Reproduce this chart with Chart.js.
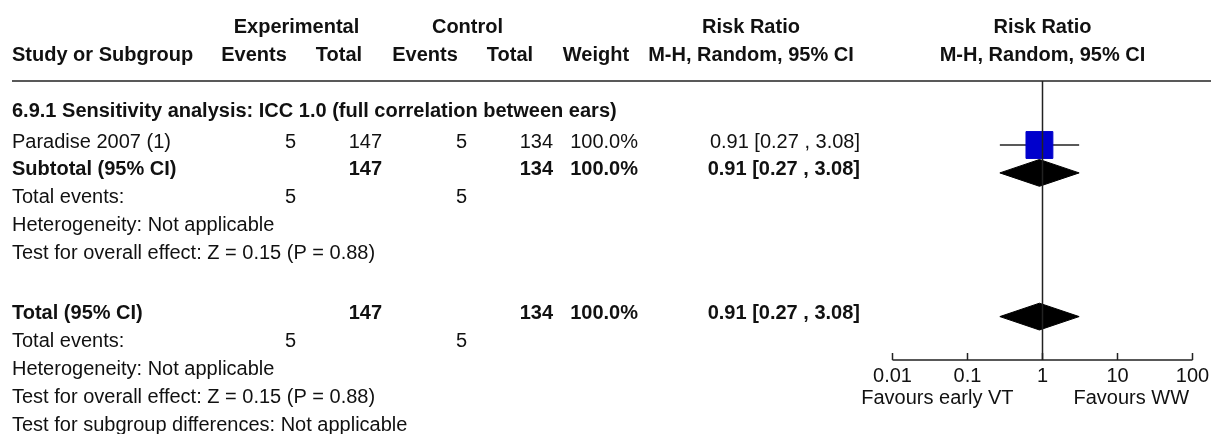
<!DOCTYPE html>
<html>
<head>
<meta charset="utf-8">
<title>Forest plot</title>
<script src="https://cdn.jsdelivr.net/npm/chart.js@4/dist/chart.umd.min.js"></script>
<style>
html, body { margin: 0; padding: 0; background: #fff; }
#wrap { position: relative; width: 1211px; height: 434px; overflow: hidden; }
</style>
</head>
<body>
<div id="wrap"><canvas id="forest" width="1211" height="434"></canvas></div>
<script>
// study level data
var studies = ["Paradise 2007 (1)"];
var expEvents = [5];
var expTotal = [147];
var ctlEvents = [5];
var ctlTotal = [134];
var weights = [100.0];
var rr = [0.91];
var rrLow = [0.27];
var rrHigh = [3.08];

// pooled results: [estimate, low, high]
var subtotalRR = [0.91, 0.27, 3.08];
var totalRR = [0.91, 0.27, 3.08];
var pooledEvents = [5, 5];
var pooledTotal = [147, 134];

var sectionTitle = "6.9.1 Sensitivity analysis: ICC 1.0 (full correlation between ears)";
var overallTest = "Test for overall effect: Z = 0.15 (P = 0.88)";
var heterogeneity = "Heterogeneity: Not applicable";
var subgroupTest = "Test for subgroup differences: Not applicable";

var axisTicks = [0.01, 0.1, 1, 10, 100];
var axisTickLabels = ["0.01", "0.1", "1", "10", "100"];
var favourLeft = "Favours early VT";
var favourRight = "Favours WW";

// layout (row units, one row = ROW_PX pixels)
var ROW_PX = 27.9, ROW0 = 145;
var ROW = {
  head1: -4.1, head2: -3.1, rule: -2.29, section: -1.1,
  study: 0, subtotal: 1, subEvents: 2, subHet: 3, subTest: 4,
  total: 6.15, totEvents: 7.15, totHet: 8.15, totTest: 9.15, subgroup: 10.15,
  axis: 7.71
};
var COL = { left: 12, expEv: 296, expTot: 382, ctlEv: 467, ctlTot: 553, weight: 638, ci: 860 };
var HEAD = { expEv: 254, expTot: 339, ctlEv: 425, ctlTot: 510, weight: 596, ci: 751 };
var DIAMOND_H = 0.48;
var FONT = '"Liberation Sans", Arial, sans-serif';

function ciText(est, lo, hi) {
  return est.toFixed(2) + " [" + lo.toFixed(2) + " , " + hi.toFixed(2) + "]";
}

function diamond(p, row) {
  return [
    {x: p[1], y: row}, {x: p[0], y: row - DIAMOND_H},
    {x: p[2], y: row}, {x: p[0], y: row + DIAMOND_H}, {x: p[1], y: row}
  ];
}

var datasets = [];
studies.forEach(function (s, i) {
  datasets.push({
    type: 'scatter', order: 0,
    data: [{x: rr[i], y: ROW.study + i}],
    pointStyle: 'rect',
    pointRadius: 19 * Math.sqrt(weights[i] / 100),
    backgroundColor: '#0000CC', borderColor: '#0000CC', borderWidth: 1
  });
  datasets.push({
    type: 'line', order: 1,
    data: [{x: rrLow[i], y: ROW.study + i}, {x: rrHigh[i], y: ROW.study + i}],
    borderColor: '#222', borderWidth: 1.5, pointRadius: 0, fill: false
  });
});
[[subtotalRR, ROW.subtotal], [totalRR, ROW.total]].forEach(function (d) {
  datasets.push({
    type: 'line', order: 2,
    data: diamond(d[0], d[1]),
    borderColor: '#000', backgroundColor: '#000', borderWidth: 1,
    pointRadius: 0, tension: 0, fill: 'shape'
  });
});

function txt(ctx, s, px, py, align, bold) {
  ctx.font = (bold ? 'bold ' : '') + '20px ' + FONT;
  ctx.textAlign = align;
  ctx.textBaseline = 'alphabetic';
  ctx.fillText(s, px, py);
}

var forestDecor = {
  id: 'forestDecor',
  afterDatasetsDraw: function (chart) {
    var ctx = chart.ctx, xs = chart.scales.x, ys = chart.scales.y;
    var base = function (r) { return ys.getPixelForValue(r) + 2.5; };
    var x1 = xs.getPixelForValue(1);
    var axisY = ys.getPixelForValue(ROW.axis);
    var ruleY = ys.getPixelForValue(ROW.rule);
    ctx.save();
    ctx.strokeStyle = '#222';
    ctx.lineWidth = 1.5;

    // header rule
    ctx.beginPath();
    ctx.moveTo(COL.left, ruleY);
    ctx.lineTo(chart.width, ruleY);
    ctx.stroke();

    // line of no effect
    ctx.beginPath();
    ctx.moveTo(x1, ruleY);
    ctx.lineTo(x1, axisY);
    ctx.stroke();

    // x axis
    ctx.beginPath();
    ctx.moveTo(xs.getPixelForValue(axisTicks[0]), axisY);
    ctx.lineTo(xs.getPixelForValue(axisTicks[axisTicks.length - 1]), axisY);
    axisTicks.forEach(function (t) {
      var tx = xs.getPixelForValue(t);
      ctx.moveTo(tx, axisY);
      ctx.lineTo(tx, axisY - 7);
    });
    ctx.stroke();

    ctx.fillStyle = '#111';
    axisTicks.forEach(function (t, i) {
      txt(ctx, axisTickLabels[i], xs.getPixelForValue(t), axisY + 22, 'center', false);
    });
    txt(ctx, favourLeft, x1 - 29, axisY + 44, 'right', false);
    txt(ctx, favourRight, x1 + 31, axisY + 44, 'left', false);

    // headers
    var h1 = base(ROW.head1), h2 = base(ROW.head2);
    txt(ctx, "Experimental", (HEAD.expEv + HEAD.expTot) / 2, h1, 'center', true);
    txt(ctx, "Control", (HEAD.ctlEv + HEAD.ctlTot) / 2, h1, 'center', true);
    txt(ctx, "Risk Ratio", HEAD.ci, h1, 'center', true);
    txt(ctx, "Risk Ratio", x1, h1, 'center', true);
    txt(ctx, "Study or Subgroup", COL.left, h2, 'left', true);
    txt(ctx, "Events", HEAD.expEv, h2, 'center', true);
    txt(ctx, "Total", HEAD.expTot, h2, 'center', true);
    txt(ctx, "Events", HEAD.ctlEv, h2, 'center', true);
    txt(ctx, "Total", HEAD.ctlTot, h2, 'center', true);
    txt(ctx, "Weight", HEAD.weight, h2, 'center', true);
    txt(ctx, "M-H, Random, 95% CI", HEAD.ci, h2, 'center', true);
    txt(ctx, "M-H, Random, 95% CI", x1, h2, 'center', true);

    // subgroup
    txt(ctx, sectionTitle, COL.left, base(ROW.section), 'left', true);
    studies.forEach(function (s, i) {
      var b = base(ROW.study + i);
      txt(ctx, s, COL.left, b, 'left', false);
      txt(ctx, String(expEvents[i]), COL.expEv, b, 'right', false);
      txt(ctx, String(expTotal[i]), COL.expTot, b, 'right', false);
      txt(ctx, String(ctlEvents[i]), COL.ctlEv, b, 'right', false);
      txt(ctx, String(ctlTotal[i]), COL.ctlTot, b, 'right', false);
      txt(ctx, weights[i].toFixed(1) + "%", COL.weight, b, 'right', false);
      txt(ctx, ciText(rr[i], rrLow[i], rrHigh[i]), COL.ci, b, 'right', false);
    });

    var summary = function (label, row, p, evRow, hetRow, testRow) {
      var b = base(row);
      txt(ctx, label, COL.left, b, 'left', true);
      txt(ctx, String(pooledTotal[0]), COL.expTot, b, 'right', true);
      txt(ctx, String(pooledTotal[1]), COL.ctlTot, b, 'right', true);
      txt(ctx, "100.0%", COL.weight, b, 'right', true);
      txt(ctx, ciText(p[0], p[1], p[2]), COL.ci, b, 'right', true);
      b = base(evRow);
      txt(ctx, "Total events:", COL.left, b, 'left', false);
      txt(ctx, String(pooledEvents[0]), COL.expEv, b, 'right', false);
      txt(ctx, String(pooledEvents[1]), COL.ctlEv, b, 'right', false);
      txt(ctx, heterogeneity, COL.left, base(hetRow), 'left', false);
      txt(ctx, overallTest, COL.left, base(testRow), 'left', false);
    };
    summary("Subtotal (95% CI)", ROW.subtotal, subtotalRR, ROW.subEvents, ROW.subHet, ROW.subTest);
    summary("Total (95% CI)", ROW.total, totalRR, ROW.totEvents, ROW.totHet, ROW.totTest);
    txt(ctx, subgroupTest, COL.left, base(ROW.subgroup), 'left', false);
    ctx.restore();
  }
};

var canvas = document.getElementById('forest');
new Chart(canvas.getContext('2d'), {
  type: 'scatter',
  data: { datasets: datasets },
  options: {
    responsive: false,
    animation: false,
    events: [],
    layout: { autoPadding: false, padding: { left: 892.5, right: 18.5, top: 0, bottom: 0 } },
    plugins: { legend: { display: false }, tooltip: { enabled: false } },
    scales: {
      x: { type: 'logarithmic', min: 0.01, max: 100, display: false },
      y: { type: 'linear', reverse: true, min: -ROW0 / ROW_PX, max: (434 - ROW0) / ROW_PX, display: false }
    }
  },
  plugins: [forestDecor]
});
</script>
</body>
</html>
